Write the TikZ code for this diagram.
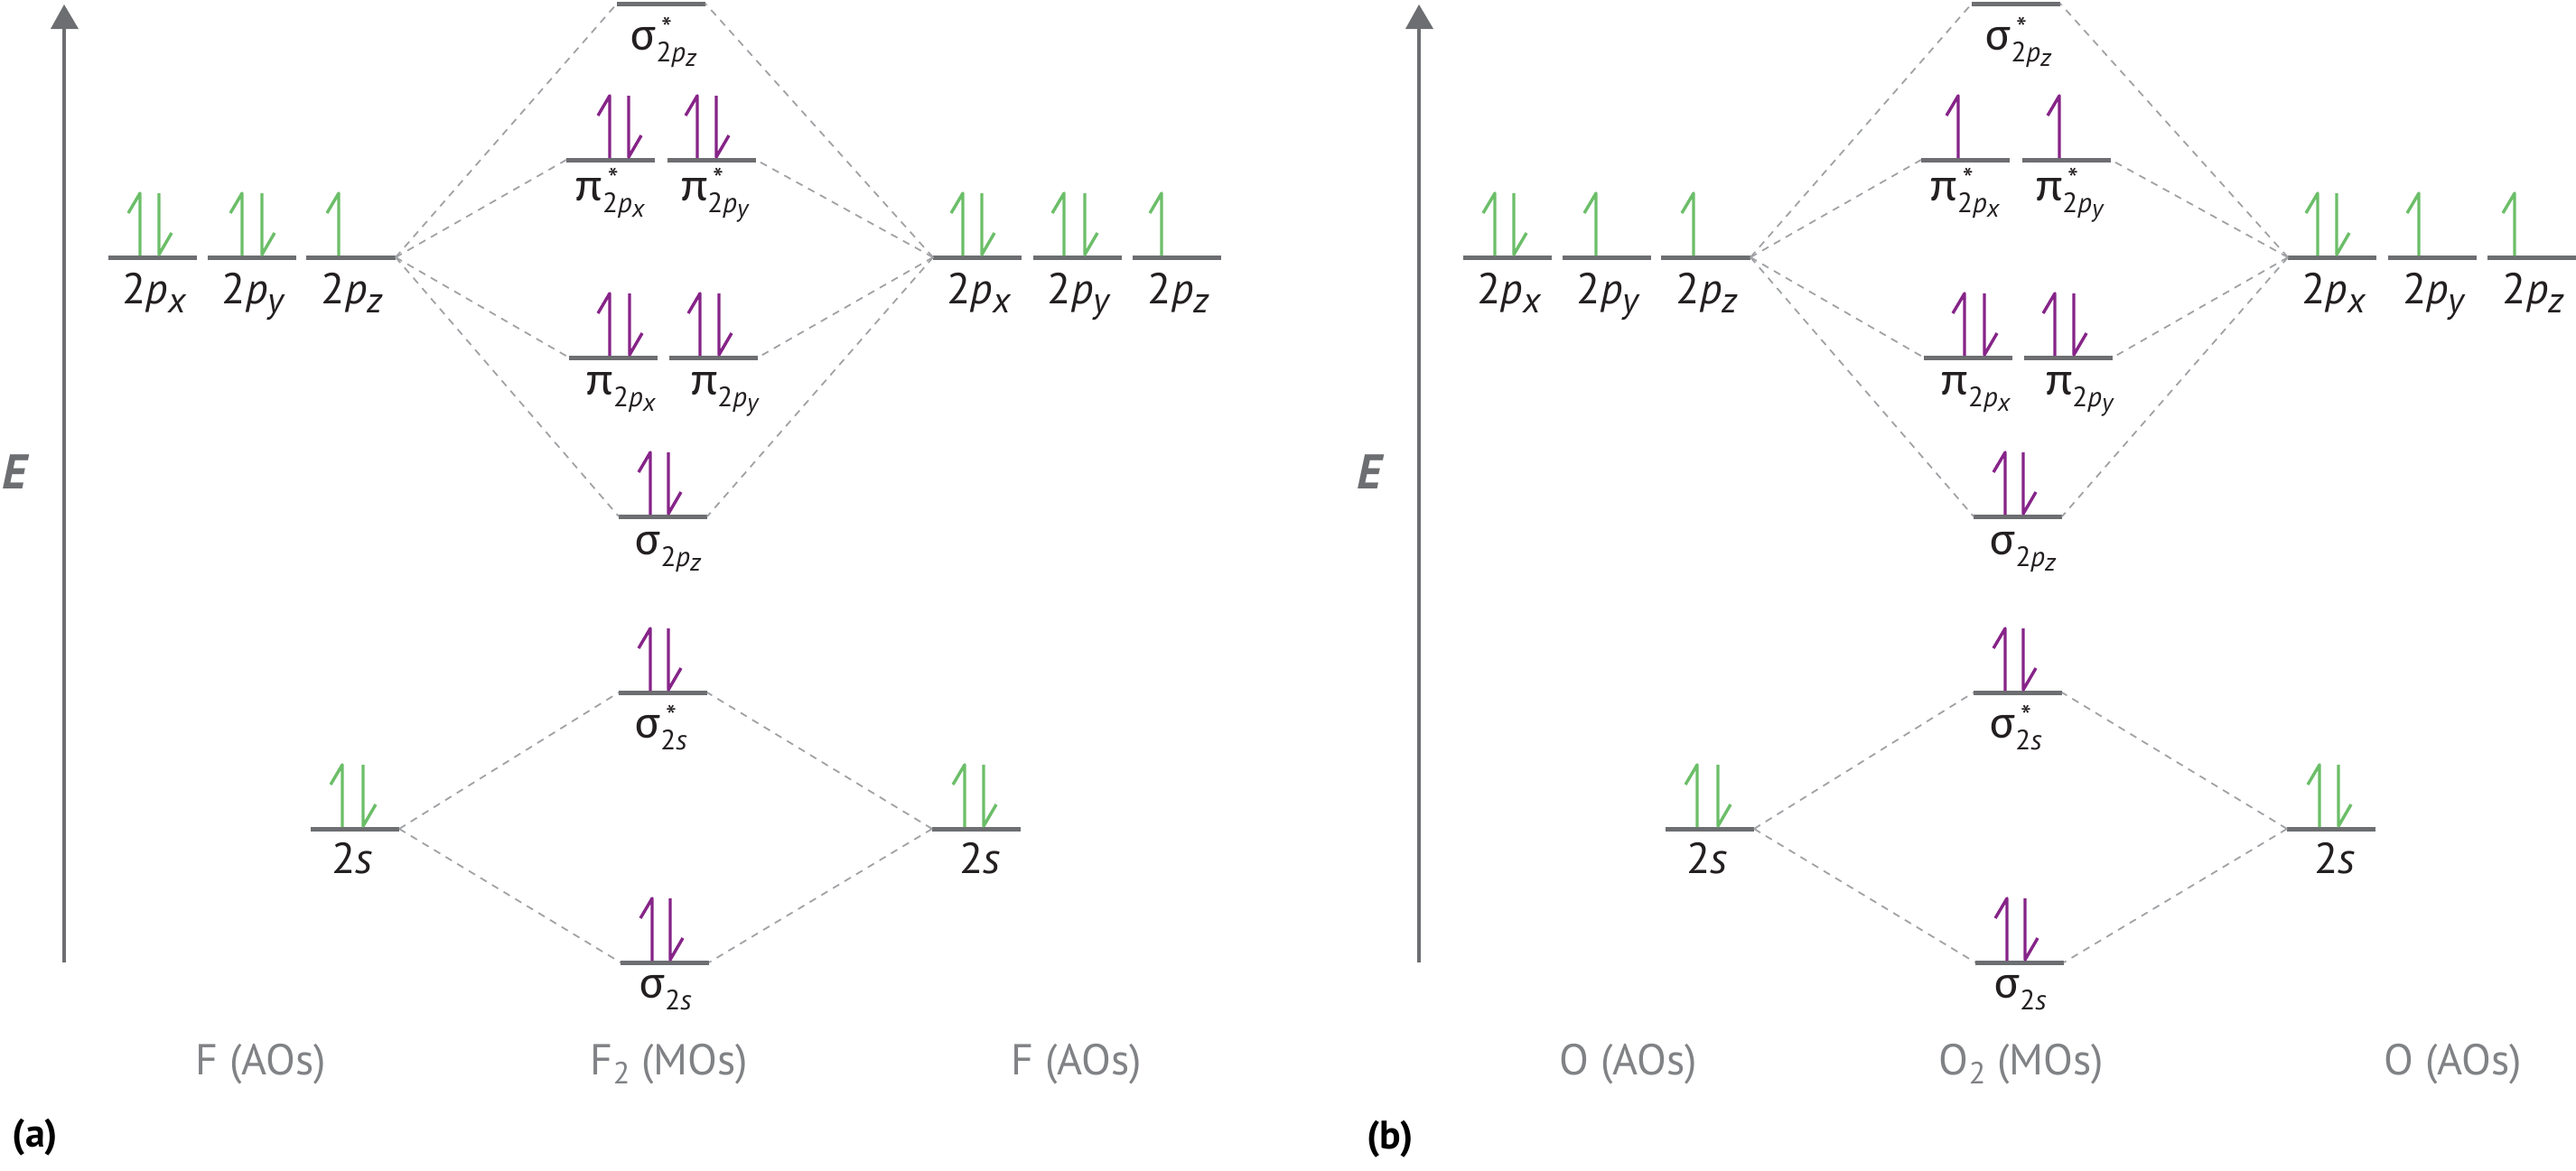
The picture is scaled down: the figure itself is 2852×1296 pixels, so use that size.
\documentclass[tikz,border=0pt]{standalone}
\usepackage{fontspec}
\setmainfont{PT Sans}
\newfontfamily\grk[Scale=1.1]{Carlito}
\definecolor{lvgray}{RGB}{109,110,113}
\definecolor{dashgray}{RGB}{160,162,165}
\definecolor{elgreen}{RGB}{108,190,105}
\definecolor{elpurple}{RGB}{134,36,136}
\definecolor{labblack}{RGB}{35,31,32}
\definecolor{botgray}{RGB}{128,130,133}
\tikzset{
  level/.style={draw=lvgray, line width=2.5pt},
  conn/.style={draw=dashgray, line width=0.9pt, dash pattern=on 4pt off 3.5pt},
  ao/.style={draw=elgreen, line width=1.7pt, line join=round, line cap=butt},
  mo/.style={draw=elpurple, line width=1.7pt, line join=round, line cap=butt},
  lab/.style={text=labblack, inner sep=0pt, anchor=base, font=\fontsize{24}{24}\selectfont},
  bot/.style={text=botgray, inner sep=0pt, anchor=base, font=\fontsize{24}{24}\selectfont},
}
\newcommand\aosub[1]{\raisebox{-5pt}{\fontsize{20}{20}\selectfont\textit{#1}}}
\newcommand\aolab[1]{2\textit{p}\aosub{#1}}
\newcommand\mosub[1]{\raisebox{-6.5pt}{\fontsize{15.5}{15.5}\selectfont #1}}
\newcommand\mosubsub[1]{\raisebox{-2.5pt}{\fontsize{14}{14}\selectfont\textit{#1}}}
\newcommand\mostar{\rlap{\raisebox{6pt}{\fontsize{17}{17}\selectfont\,*}}}
\newcommand\molab[3]{{\grk #1}#2\mosub{#3}}
\newcommand\psub[1]{2\textit{p}\mosubsub{#1}}
% level: name, x1, x2, y
\newcommand\lvl[4]{\coordinate (#1-l) at (#2,#4); \coordinate (#1-r) at (#3,#4); \draw[level] (#1-l) -- (#1-r);}
% electrons: style, x, y
\newcommand\eup[3]{\draw[#1] (#2,#3-2) -- (#2,#3-71) -- (#2-13,#3-49);}
\newcommand\edn[3]{\draw[#1] (#2,#3-71) -- (#2,#3-3) -- (#2+14,#3-27);}
\newcommand\epair[4]{\eup{#1}{#2}{#4}\edn{#1}{#3}{#4}}
% common panel structure
\newcommand\panel[1]{%
  \lvl{#1-L2px}{120}{218}{285}
  \lvl{#1-L2py}{230}{328}{285}
  \lvl{#1-L2pz}{339}{438}{285}
  \lvl{#1-R2px}{1033}{1131}{285}
  \lvl{#1-R2py}{1144}{1242}{285}
  \lvl{#1-R2pz}{1254}{1352}{285}
  \lvl{#1-ss2pz}{683}{781}{4}
  \lvl{#1-ps2px}{627}{725}{177}
  \lvl{#1-ps2py}{739}{837}{177}
  \lvl{#1-p2px}{630}{728}{396}
  \lvl{#1-p2py}{741}{839}{396}
  \lvl{#1-s2pz}{685}{783}{572}
  \lvl{#1-ss2s}{685}{783}{767}
  \lvl{#1-s2s}{687}{785}{1066}
  \lvl{#1-L2s}{344}{442}{918}
  \lvl{#1-R2s}{1032}{1130}{918}
  \foreach \m in {ss2pz,ps2px,p2px,s2pz}{\draw[conn] (#1-L2pz-r) -- (#1-\m-l);}
  \foreach \m in {ss2pz,ps2py,p2py,s2pz}{\draw[conn] (#1-R2px-l) -- (#1-\m-r);}
  \foreach \m in {ss2s,s2s}{\draw[conn] (#1-L2s-r) -- (#1-\m-l); \draw[conn] (#1-R2s-l) -- (#1-\m-r);}
  \node[lab] (#1-tL2px) at (171,336) {\aolab{x}};
  \node[lab] (#1-tL2py) at (281,336) {\aolab{y}};
  \node[lab] (#1-tL2pz) at (390,336) {\aolab{z}};
  \node[lab] (#1-tR2px) at (1084,336) {\aolab{x}};
  \node[lab] (#1-tR2py) at (1195,336) {\aolab{y}};
  \node[lab] (#1-tR2pz) at (1305,336) {\aolab{z}};
  \node[lab] (#1-tL2s) at (390,967) {2\textit{s}};
  \node[lab] (#1-tR2s) at (1085,967) {2\textit{s}};
  \node[lab] (#1-tss2pz) at (735,55) {\molab{σ}{\mostar}{\psub{z}}};
  \node[lab] (#1-tps2px) at (676,222) {\molab{π}{\mostar}{\psub{x}}};
  \node[lab] (#1-tps2py) at (792,222) {\molab{π}{\mostar}{\psub{y}}};
  \node[lab] (#1-tp2px) at (688,437) {\molab{π}{}{\psub{x}}};
  \node[lab] (#1-tp2py) at (803,437) {\molab{π}{}{\psub{y}}};
  \node[lab] (#1-ts2pz) at (740,614) {\molab{σ}{}{\psub{z}}};
  \node[lab] (#1-tss2s) at (732,817) {\molab{σ}{\mostar}{2\textit{s}}};
  \node[lab] (#1-ts2s) at (737,1105) {\molab{σ}{}{2\textit{s}}};
  % energy axis
  \coordinate (#1-axb) at (71,1066);
  \coordinate (#1-axt) at (71,31);
  \draw[lvgray, line width=2pt] (#1-axb) -- (#1-axt);
  \fill[lvgray] (71,5) -- (56,32) -- (87,32) -- cycle;
  \node[text=lvgray, inner sep=0pt, font=\fontsize{27}{27}\selectfont\bfseries\itshape] (#1-E) at (16,523) {E};
  % MO electrons common
  \epair{mo}{675}{697}{396}
  \epair{mo}{775}{796}{396}
  \epair{mo}{720}{740}{572}
  \epair{mo}{720}{740}{767}
  \epair{mo}{722}{742}{1066}
  \epair{ao}{379}{402}{918}
  \epair{ao}{1068}{1089}{918}
  \epair{ao}{155}{176}{285}
  \epair{ao}{1066}{1087}{285}
}
\begin{document}
\begin{tikzpicture}[x=0.5pt, y=-0.5pt]
\useasboundingbox (0,0) rectangle (2852,1296);
% panel (a): F2
\begin{scope}
  \panel{a}
  \epair{ao}{268}{290}{285}
  \eup{ao}{375}{285}
  \epair{ao}{1178}{1201}{285}
  \eup{ao}{1286}{285}
  \epair{mo}{675}{696}{177}
  \epair{mo}{772}{793}{177}
  \node[bot] (a-b1) at (289,1190) {F (AOs)};
  \node[bot] (a-b2) at (741,1190) {F\raisebox{-5pt}{\fontsize{17}{17}\selectfont 2} (MOs)};
  \node[bot] (a-b3) at (1192,1190) {F (AOs)};
  \node[inner sep=0pt, font=\fontsize{22}{22}\selectfont\bfseries] (a-tag) at (39,1260) {(a)};
\end{scope}
% panel (b): O2
\begin{scope}[shift={(1500,0)}]
  \panel{b}
  \eup{ao}{267}{285}
  \eup{ao}{375}{285}
  \eup{ao}{1178}{285}
  \eup{ao}{1284}{285}
  \eup{mo}{668}{177}
  \eup{mo}{780}{177}
  \node[bot] (b-b1) at (303,1190) {O (AOs)};
  \node[bot] (b-b2) at (738,1190) {O\raisebox{-5pt}{\fontsize{17}{17}\selectfont 2} (MOs)};
  \node[bot] (b-b3) at (1216,1190) {O (AOs)};
  \node[inner sep=0pt, font=\fontsize{22}{22}\selectfont\bfseries] (b-tag) at (39,1262) {(b)};
\end{scope}
\end{tikzpicture}
\end{document}
